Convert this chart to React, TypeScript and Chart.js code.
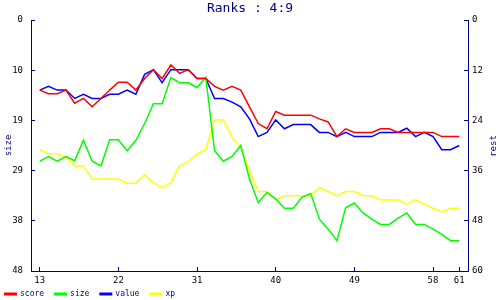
import React, { useEffect, useRef } from 'react';
import { Chart, registerables } from 'chart.js';
Chart.register(...registerables);

const xValues = [13, 14, 15, 16, 17, 18, 19, 20, 21, 22, 23, 24, 25, 26, 27, 28, 29, 30, 31, 32, 33, 34, 35, 36, 37, 38, 39, 40, 41, 42, 43, 44, 45, 46, 47, 48, 49, 50, 51, 52, 53, 54, 55, 56, 57, 58, 59, 60, 61];

const score = [13.4, 14.1, 14.1, 13.4, 15.9, 15.0, 16.6, 15.0, 13.4, 11.9,
  11.9, 13.4, 11.2, 9.5, 11.2, 8.6, 10.2, 9.5, 11.2, 11.2,
  12.7, 13.4, 12.7, 13.4, 16.6, 19.8, 20.8, 17.5, 18.2, 18.2,
  18.2, 18.2, 18.9, 19.5, 22.3, 20.8, 21.5, 21.5, 21.5, 20.8,
  20.8, 21.5, 21.5, 21.5, 21.5, 21.5, 22.3, 22.3, 22.3];

const size = [27.0, 26.1, 27.0, 26.1, 26.9, 23.0, 27.0, 27.9, 22.9, 22.9,
  25.0, 23.0, 19.8, 16.0, 16.0, 11.0, 12.0, 12.0, 12.9, 11.0,
  25.0, 27.0, 26.1, 24.0, 30.4, 34.9, 33.0, 34.2, 36.0, 36.0,
  33.9, 33.2, 38.1, 40.0, 42.2, 35.9, 35.0, 36.9, 38.1, 39.1,
  39.1, 37.9, 36.9, 39.1, 39.1, 40.0, 41.0, 42.2, 42.2];

const value = [13.4, 12.7, 13.4, 13.4, 15.0, 14.2, 15.0, 15.0, 14.2, 14.2,
  13.4, 14.2, 10.4, 9.5, 12.0, 9.5, 9.5, 9.5, 11.2, 11.2,
  15.0, 15.0, 15.7, 16.6, 18.9, 22.3, 21.5, 19.1, 20.8, 20.0,
  20.0, 20.0, 21.5, 21.5, 22.3, 21.5, 22.3, 22.3, 22.3, 21.5,
  21.5, 21.5, 20.7, 22.3, 21.5, 22.3, 24.8, 24.8, 24.0];

const xp = [24.8, 25.6, 25.6, 26.2, 27.9, 27.9, 30.4, 30.4, 30.4, 30.4,
  31.2, 31.2, 29.6, 31.1, 32.1, 31.1, 27.9, 27.1, 25.6, 24.8,
  19.1, 19.1, 22.4, 24.4, 28.8, 32.8, 32.8, 34.4, 33.6, 33.6,
  33.6, 33.6, 32.0, 32.8, 33.6, 32.8, 32.8, 33.6, 33.6, 34.4,
  34.4, 34.4, 35.2, 34.4, 35.2, 36.0, 36.7, 36.0, 36.0];

const xTicks = [13, 22, 31, 40, 49, 58, 61];
const leftTicks = [0, 9.6, 19.2, 28.8, 38.4, 48];
const leftTickLabels = ['0', '10', '19', '29', '38', '48'];
const rightTicks = [0, 12, 24, 36, 48, 60];

const NAVY = '#000080';
const MONO = '"DejaVu Sans Mono", monospace';

export default function App() {
  const ref = useRef<HTMLCanvasElement>(null);

  useEffect(() => {
    if (!ref.current) return;
    const mk = (arr: number[]) => xValues.map((x, i) => ({ x, y: arr[i] }));

    const legendPlugin = {
      id: 'customLegend',
      afterDraw(chart: any) {
        const ctx = chart.ctx as CanvasRenderingContext2D;
        ctx.save();
        ctx.font = `8px ${MONO}`;
        ctx.textBaseline = 'middle';
        ctx.textAlign = 'left';
        let x = 4;
        const y = 294;
        chart.data.datasets.forEach((ds: any) => {
          ctx.strokeStyle = ds.borderColor;
          ctx.lineWidth = 3;
          ctx.beginPath();
          ctx.moveTo(x, y);
          ctx.lineTo(x + 13, y);
          ctx.stroke();
          ctx.fillStyle = NAVY;
          ctx.fillText(ds.label, x + 16, y);
          x += 16 + ctx.measureText(ds.label).width + 10;
        });
        ctx.translate(494, 146);
        ctx.rotate(-Math.PI / 2);
        ctx.font = `9px ${MONO}`;
        ctx.textAlign = 'center';
        ctx.fillStyle = NAVY;
        ctx.fillText('rest', 0, 0);
        ctx.restore();
      },
    };

    const tickFont = { family: MONO, size: 9 };

    const chart = new Chart(ref.current, {
      type: 'line',
      data: {
        datasets: [
          { label: 'score', data: mk(score), borderColor: '#ff0000', backgroundColor: '#ff0000' },
          { label: 'size', data: mk(size), borderColor: '#00ff00', backgroundColor: '#00ff00' },
          { label: 'value', data: mk(value), borderColor: '#0000ff', backgroundColor: '#0000ff' },
          { label: 'xp', data: mk(xp), borderColor: '#ffff00', backgroundColor: '#ffff00' },
        ],
      },
      options: {
        responsive: false,
        animation: false,
        events: [],
        elements: {
          point: { radius: 0 },
          line: { borderWidth: 1.5, tension: 0 },
        },
        layout: { padding: 0 },
        plugins: {
          legend: { display: false },
          tooltip: { enabled: false },
          title: {
            display: true,
            text: 'Ranks : 4:9',
            color: NAVY,
            font: { family: MONO, size: 13, weight: 'normal' },
            padding: { top: 1, bottom: 3.4 },
          },
        },
        scales: {
          x: {
            type: 'linear',
            position: 'bottom',
            min: 12,
            max: 62,
            afterBuildTicks: (s: any) => { s.ticks = xTicks.map((v) => ({ value: v })); },
            ticks: { color: '#000', font: tickFont, padding: 8, autoSkip: false, maxRotation: 0, callback: (v: any) => String(v) },
            grid: { drawOnChartArea: false, tickLength: -4, color: NAVY, tickColor: NAVY },
            border: { color: NAVY, width: 1 },
            afterFit: (s: any) => { s.height = 29; },
          },
          y: {
            type: 'linear',
            position: 'left',
            min: 0,
            max: 48,
            reverse: true,
            afterBuildTicks: (s: any) => { s.ticks = leftTicks.map((v) => ({ value: v })); },
            ticks: { color: '#000', font: tickFont, padding: 12, autoSkip: false, callback: (_v: any, i: number) => leftTickLabels[i] },
            grid: { drawOnChartArea: false, tickLength: -4, color: NAVY, tickColor: NAVY },
            border: { color: NAVY, width: 1 },
            title: { display: true, text: 'size', color: NAVY, font: { family: MONO, size: 9 }, padding: { top: 3, bottom: 0 } },
            afterFit: (s: any) => { s.width = 31; },
          },
          y2: {
            type: 'linear',
            position: 'right',
            min: 0,
            max: 60,
            reverse: true,
            afterBuildTicks: (s: any) => { s.ticks = rightTicks.map((v) => ({ value: v })); },
            ticks: { color: '#000', font: tickFont, padding: 8, autoSkip: false, callback: (v: any) => String(v) },
            grid: { drawOnChartArea: false, tickLength: -4, color: NAVY, tickColor: NAVY },
            border: { color: NAVY, width: 1 },
            afterFit: (s: any) => { s.width = 32; },
          },
        },
      } as any,
      plugins: [legendPlugin],
    });
    return () => chart.destroy();
  }, []);

  return (
    <div style={{ position: 'fixed', left: 0, top: 0, width: 500, height: 300, background: '#fff' }}>
      <canvas ref={ref} width={500} height={300} />
    </div>
  );
}
